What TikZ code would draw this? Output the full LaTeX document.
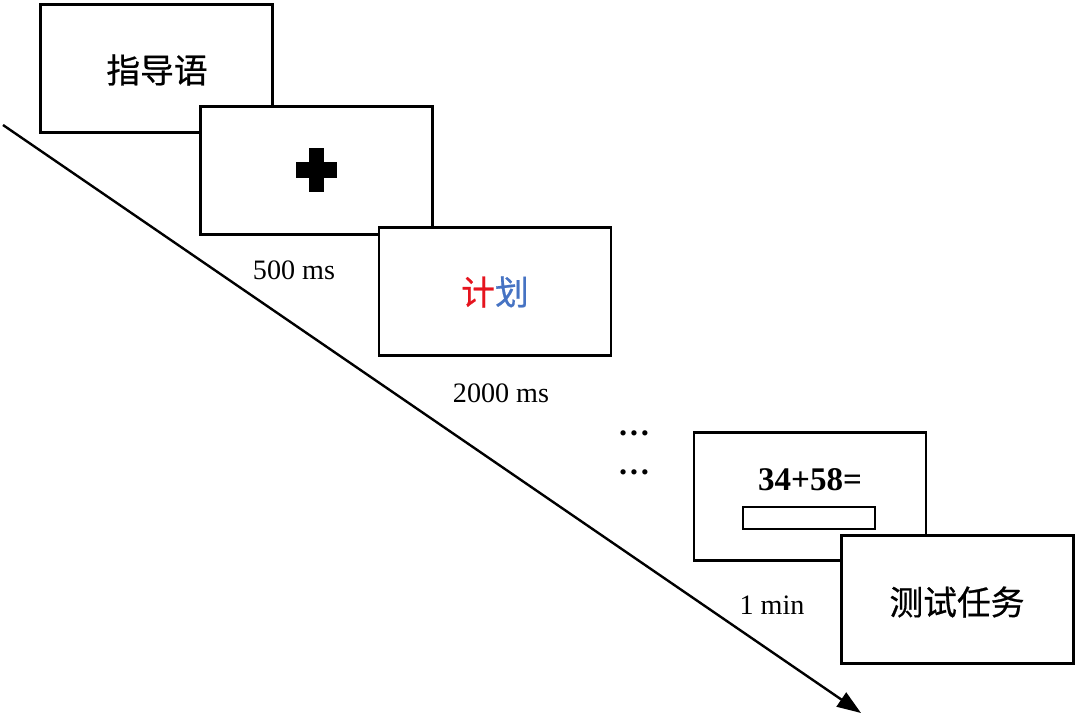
\documentclass[tikz,border=0pt]{standalone}
\usepackage{fontspec}
\setmainfont{Liberation Serif}
\newfontfamily\cjk[FakeBold=0.6]{Noto Sans CJK SC}
\usepackage{xcolor}
\usepackage{tikz}
\usetikzlibrary{arrows.meta,positioning}
\definecolor{wordred}{RGB}{230,20,30}
\definecolor{wordblue}{RGB}{70,115,195}

\begin{document}
\begin{tikzpicture}[x=0.025cm,y=-0.025cm,
  screen/.style={rectangle,draw,line width=1.5pt,fill=white,minimum width=5.8cm,minimum height=3.2cm},
  timelabel/.style={font=\fontsize{20}{22}\selectfont},
  cjklabel/.style={font=\cjk\fontsize{24}{26}\selectfont}]
\useasboundingbox (0,0) rectangle (1080,720);
\coordinate (start) at (3,125);
\coordinate (end) at (861,713);
\draw[line width=1.7pt,-{Triangle[length=17pt,width=12pt]}] (start)--(end);
\node[screen] (intro) at (156.5,68.5) {};
\node[cjklabel] at (157,70) {指导语};
\node[screen] (fix) at (316.5,170.5) {};
\node[fill=black,inner sep=0pt,minimum width=1.03cm,minimum height=0.38cm] (crossh) at (316.5,170) {};
\node[fill=black,inner sep=0pt,minimum width=0.38cm,minimum height=1.1cm] (crossv) at (316.5,170) {};
\node[screen] (word) at (495,291.5) {};
\node[cjklabel] (wordtxt) at (495,292) {\textcolor{wordred}{计}\textcolor{wordblue}{划}};
\node[screen] (calc) at (810,496.5) {};
\node[font=\bfseries\fontsize{23.5}{25}\selectfont] (sum) at (810,480) {34+58=};
\node[rectangle,draw,line width=1.5pt,minimum width=3.3cm,minimum height=0.55cm,inner sep=0pt] (answer) at (809,518) {};
\node[screen] (test) at (957.5,599.5) {};
\node[cjklabel] at (957,602) {测试任务};
\node[timelabel] (t1) at (294,270) {500 ms};
\node[timelabel] (t2) at (501,393) {2000 ms};
\node[timelabel] (t3) at (772,605) {1 min};
\node[font=\bfseries\fontsize{23}{25}\selectfont] (dotsa) at (634,433) {…};
\node[font=\bfseries\fontsize{23}{25}\selectfont] (dotsb) at (634,472) {…};
\end{tikzpicture}
\end{document}
